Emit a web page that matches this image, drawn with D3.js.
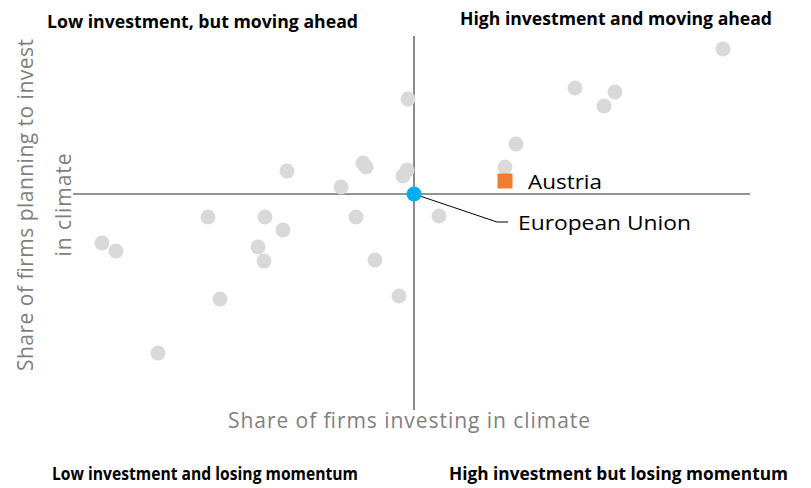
<!DOCTYPE html>
<html>
<head>
<meta charset="utf-8">
<script src="https://cdn.jsdelivr.net/npm/d3@7"></script>
<style>
  body { margin: 0; background: #fff; }
  text { font-family: "Open Sans", "Noto Sans", sans-serif; }
</style>
</head>
<body>
<div id="chart"></div>
<script>
// Share of firms investing (x) and planning to invest (y), in %
const investing = [40.3, 47.9, 48.2, 52.3, 51.9, 45.7, 32.4, 38.1, 47.2, 39.9, 21.8, 23.2, 37.4,
                   38.0, 49.1, 33.6, 51.5, 27.4, 55.5, 83.9, 69.1, 73.1, 72.0, 52.4, 63.2, 62.1];
const planning  = [47.3, 48.1, 47.7, 47.4, 46.8, 45.7, 42.7, 42.7, 42.7, 41.4, 40.1, 39.3, 39.7,
                   38.3, 38.4, 34.5, 34.8, 29.1, 42.8, 59.5, 55.6, 55.2, 53.8, 54.5, 50.0, 47.7];
const austria = { name: "Austria", x: 62.1, y: 46.3 };
const eu = { name: "European Union", x: 53, y: 45 };

const quadrantLabels = [
  "Low investment, but moving ahead",
  "High investment and moving ahead",
  "Low investment and losing momentum",
  "High investment but losing momentum"
];

const width = 811, height = 488;

const svg = d3.select("#chart")
    .append("svg")
    .attr("width", width)
    .attr("height", height);

const x = d3.scaleLinear().domain([18.9, 86.6]).range([73, 750]);
const y = d3.scaleLinear().domain([23.4, 60.8]).range([410, 36]);

// Axes crossing at the EU average
svg.append("line")
    .attr("x1", x.range()[0]).attr("x2", x.range()[1])
    .attr("y1", y(eu.y)).attr("y2", y(eu.y))
    .attr("stroke", "#6f6f6f").attr("stroke-width", 1.6);

svg.append("line")
    .attr("x1", x(eu.x)).attr("x2", x(eu.x))
    .attr("y1", y.range()[1]).attr("y2", y.range()[0])
    .attr("stroke", "#6f6f6f").attr("stroke-width", 1.6);

// Countries
svg.selectAll("circle.country")
    .data(d3.range(investing.length))
    .join("circle")
    .attr("class", "country")
    .attr("cx", i => x(investing[i]))
    .attr("cy", i => y(planning[i]))
    .attr("r", 7.5)
    .attr("fill", "#d9d9d9");

// Austria
svg.append("rect")
    .attr("x", x(austria.x) - 7.5)
    .attr("y", y(austria.y) - 7.5)
    .attr("width", 15).attr("height", 15)
    .attr("fill", "#ed7d31");

svg.append("text")
    .attr("x", x(austria.x) + 23)
    .attr("y", y(austria.y) + 8)
    .attr("font-size", 20)
    .attr("fill", "#000")
    .attr("textLength", 74)
    .attr("lengthAdjust", "spacingAndGlyphs")
    .text(austria.name);

// EU leader line and label
const ex = x(eu.x), ey = y(eu.y);
svg.append("polyline")
    .attr("points", `${ex},${ey} ${ex + 83},${ey + 28} ${ex + 94},${ey + 28}`)
    .attr("fill", "none")
    .attr("stroke", "#000")
    .attr("stroke-width", 1);

svg.append("circle")
    .attr("cx", ex).attr("cy", ey)
    .attr("r", 7.5)
    .attr("fill", "#00aeef");

svg.append("text")
    .attr("x", ex + 104)
    .attr("y", ey + 36)
    .attr("font-size", 20)
    .attr("fill", "#000")
    .attr("textLength", 173)
    .attr("lengthAdjust", "spacingAndGlyphs")
    .text(eu.name);

// Axis titles
svg.append("text")
    .attr("x", 409)
    .attr("y", 428)
    .attr("text-anchor", "middle")
    .attr("font-size", 21)
    .attr("fill", "#7f7f7f")
    .attr("textLength", 362)
    .text("Share of firms investing in climate");

const yTitle = svg.append("text")
    .attr("transform", "translate(0,205) rotate(-90)")
    .attr("text-anchor", "middle")
    .attr("font-size", 21)
    .attr("fill", "#7f7f7f");
yTitle.append("tspan").attr("x", 0).attr("y", 33)
    .attr("textLength", 332).text("Share of firms planning to invest");
yTitle.append("tspan").attr("x", 0).attr("y", 71)
    .attr("textLength", 103).text("in climate");

// Quadrant labels
const qPos = [
  { x: 47, y: 28, w: 311 },
  { x: 460, y: 25, w: 312 },
  { x: 52, y: 480, w: 306 },
  { x: 449, y: 480, w: 339 }
];
svg.selectAll("text.quad")
    .data(quadrantLabels)
    .join("text")
    .attr("class", "quad")
    .attr("x", (d, i) => qPos[i].x)
    .attr("y", (d, i) => qPos[i].y)
    .attr("font-size", 17)
    .attr("font-weight", 700)
    .attr("fill", "#000")
    .attr("textLength", (d, i) => qPos[i].w)
    .attr("lengthAdjust", "spacingAndGlyphs")
    .text(d => d);
</script>
</body>
</html>
